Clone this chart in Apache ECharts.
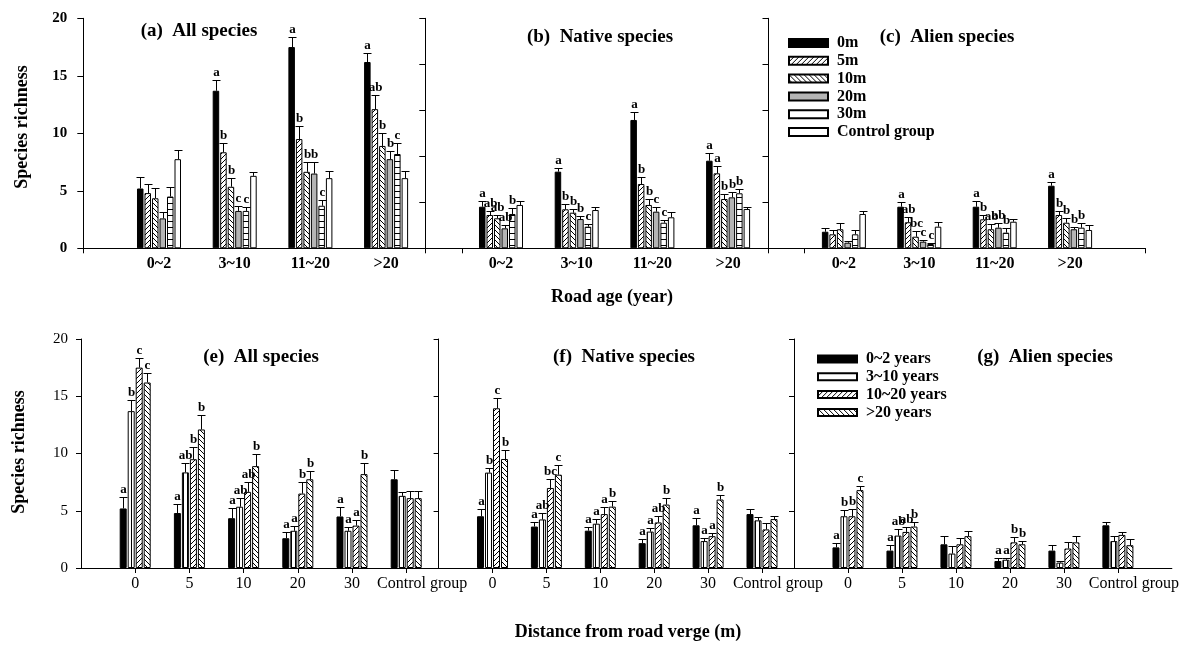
<!DOCTYPE html>
<html lang="en">
<head>
<meta charset="utf-8">
<script src="https://cdn.jsdelivr.net/npm/echarts@6/dist/echarts.min.js"></script>
</head>
<body style="margin:0;background:#fff;">
<div id="main" style="width:1182px;height:645px;"></div>
<script>
// categories
var ageCats = ['0~2', '3~10', '11~20', '>20'];
var distNames = ['0m', '5m', '10m', '20m', '30m', 'Control group'];
var distCats = ['0', '5', '10', '20', '30', 'Control group'];
var ageNames = ['0~2 years', '3~10 years', '10~20 years', '>20 years'];

// means: rows = distance (0m,5m,10m,20m,30m,control), cols = road age (0~2,3~10,11~20,>20)
var allMean = [
  [5.2, 13.7, 17.5, 16.2],
  [4.8, 8.35, 9.5, 12.1],
  [4.35, 5.35, 6.65, 8.9],
  [2.6, 3.25, 6.5, 7.75],
  [4.5, 3.25, 3.7, 8.2],
  [7.75, 6.3, 6.1, 6.1]
];
var allErr = [
  [1.0, 0.95, 0.87, 0.8],
  [0.8, 0.78, 1.1, 1.22],
  [0.87, 0.8, 0.87, 1.1],
  [0.58, 0.46, 1.0, 0.75],
  [0.8, 0.33, 0.46, 0.98],
  [0.78, 0.3, 0.66, 0.66]
];
var nativeMean = [
  [4.52, 8.33, 13.95, 9.52],
  [3.62, 4.24, 6.99, 8.15],
  [3.26, 3.87, 4.71, 5.36],
  [2.17, 3.18, 3.98, 5.54],
  [3.73, 2.35, 2.78, 5.98],
  [4.71, 4.16, 3.37, 4.27]
];
var nativeErr = [
  [0.62, 0.43, 0.9, 0.81],
  [0.43, 0.54, 0.79, 0.83],
  [0.36, 0.37, 0.62, 0.51],
  [0.36, 0.33, 0.54, 0.55],
  [0.62, 0.26, 0.3, 0.43],
  [0.46, 0.3, 0.54, 0.25]
];
var alienMean = [
  [1.8, 4.52, 4.52, 6.8],
  [1.52, 2.83, 3.15, 3.62],
  [2.07, 1.26, 2.07, 2.78],
  [0.61, 0.72, 2.24, 2.07],
  [1.52, 0.47, 1.7, 2.24],
  [3.73, 2.35, 2.89, 1.99]
];
var alienErr = [
  [0.37, 0.55, 0.65, 0.37],
  [0.47, 0.54, 0.47, 0.43],
  [0.71, 0.62, 0.57, 0.48],
  [0.22, 0.18, 0.48, 0.28],
  [0.47, 0.14, 0.54, 0.54],
  [0.32, 0.48, 0.29, 0.51]
];

// significance letters, top row: rows = distance, cols = road age
var topLetters = [
  [['', 'a', 'a', 'a'], ['', 'b', 'b', 'ab'], ['', 'b', 'b', 'b'], ['', 'c', 'b', 'b'], ['', 'c', 'c', 'c'], ['', '', '', '']],
  [['a', 'a', 'a', 'a'], ['ab', 'b', 'b', 'a'], ['ab', 'b', 'b', 'b'], ['ab', 'b', 'c', 'b'], ['b', 'c', 'c', 'b'], ['', '', '', '']],
  [['', 'a', 'a', 'a'], ['', 'ab', 'b', 'b'], ['', 'bc', 'ab', 'b'], ['', 'c', 'ab', 'b'], ['', 'c', 'b', 'b'], ['', '', '', '']]
];
// bottom row: rows = road age, cols = distance
var botLetters = [
  [['a', 'a', 'a', 'a', 'a', ''], ['b', 'ab', 'ab', 'a', 'a', ''], ['c', 'b', 'ab', 'b', 'a', ''], ['c', 'b', 'b', 'b', 'b', '']],
  [['a', 'a', 'a', 'a', 'a', ''], ['b', 'ab', 'a', 'a', 'a', ''], ['c', 'bc', 'a', 'ab', 'a', ''], ['b', 'c', 'b', 'b', 'b', '']],
  [['a', 'a', '', 'a', '', ''], ['b', 'ab', '', 'a', '', ''], ['b', 'ab', '', 'b', '', ''], ['c', 'b', '', 'b', '', '']]
];

var topMax = [20, 25, 25];
var botMax = [20, 20, 20];

var SERIF = '"Liberation Serif", "Times New Roman", serif';

function hatch(kind, s) {
  var c = document.createElement('canvas');
  c.width = s; c.height = s;
  var g = c.getContext('2d');
  g.fillStyle = '#fff'; g.fillRect(0, 0, s, s);
  g.strokeStyle = '#000'; g.lineWidth = 1;
  g.beginPath();
  if (kind === '/') {
    g.moveTo(0, s); g.lineTo(s, 0);
    g.moveTo(-1, 1); g.lineTo(1, -1);
    g.moveTo(s - 1, s + 1); g.lineTo(s + 1, s - 1);
  } else if (kind === '\\') {
    g.moveTo(0, 0); g.lineTo(s, s);
    g.moveTo(-1, s - 1); g.lineTo(1, s + 1);
    g.moveTo(s - 1, -1); g.lineTo(s + 1, 1);
  } else if (kind === '-') {
    g.moveTo(0, s - 0.5); g.lineTo(s, s - 0.5);
  } else {
    g.moveTo(s - 0.5, 0); g.lineTo(s - 0.5, s);
  }
  g.stroke();
  return { image: c, repeat: 'repeat' };
}

var topFill = ['#000', hatch('/', 5), hatch('\\', 5), '#b4b4b4', hatch('-', 6), '#fff'];
var botFill = ['#000', hatch('|', 4), hatch('/', 5), hatch('\\', 5)];

var topGrids = [[83.3, 378.5], [425.3, 378.5], [768.5, 377]];
var botGrids = [[81, 379.4], [438.6, 377.3], [794, 378.7]];

var grid = [], xAxis = [], yAxis = [], series = [];

function errRender(off, letters) {
  return function (params, api) {
    var c = api.value(0), v = api.value(1), e = api.value(2);
    var p = api.coord([c, v]);
    var q = api.coord([c, v + e]);
    var x = Math.round(p[0] + off) + 0.5;
    var yt = Math.round(q[1]) + 0.5;
    var kids = [
      { type: 'line', shape: { x1: x, y1: p[1], x2: x, y2: yt }, style: { stroke: '#000', lineWidth: 1 } },
      { type: 'line', shape: { x1: x - 4, y1: yt, x2: x + 4, y2: yt }, style: { stroke: '#000', lineWidth: 1 } }
    ];
    var t = letters[params.dataIndex];
    if (t) {
      kids.push({
        type: 'text', x: x, y: yt - 1,
        style: { text: t, align: 'center', verticalAlign: 'bottom', textAlign: 'center', textVerticalAlign: 'bottom',
          fontFamily: SERIF, fontWeight: 'bold', fontSize: 13, fill: '#000' }
      });
    }
    return { type: 'group', children: kids };
  };
}

function addPanel(idx, box, top, height, cats, max, labels, bold, tickFn, names, fills, means, errs, letters, bw, pitch) {
  grid.push({ left: box[0], top: top, width: box[1], height: height, containLabel: false });
  xAxis.push({
    type: 'category', gridIndex: idx, boundaryGap: false,
    data: [''].concat(cats, ['']),
    axisLine: { lineStyle: { color: '#000', width: 1 } },
    axisTick: { interval: tickFn, length: 5, lineStyle: { color: '#000' } },
    axisLabel: {
      interval: 0, margin: 8, color: '#000', fontFamily: SERIF,
      fontWeight: bold ? 'bold' : 'normal', fontSize: 16,
      formatter: function (v) { return v === 'Control group' ? '        ' + v : v; }
    },
    splitLine: { show: false }
  });
  yAxis.push({
    type: 'value', gridIndex: idx, min: 0, max: max, interval: 5,
    axisLine: { show: true, lineStyle: { color: '#000', width: 1 } },
    axisTick: { show: true, length: bold ? 6 : 5, lineStyle: { color: '#000' } },
    axisLabel: { show: labels, margin: bold ? 16 : 13, color: '#000', fontFamily: SERIF,
      fontWeight: bold ? 'bold' : 'normal', fontSize: 15 },
    splitLine: { show: false }
  });
  var n = names.length;
  names.forEach(function (name, k) {
    series.push({
      type: 'bar', name: name, xAxisIndex: idx, yAxisIndex: idx,
      barWidth: bw, barGap: ((pitch - bw) / bw * 100).toFixed(1) + '%',
      data: ['-'].concat(means[k], ['-']),
      itemStyle: { color: fills[k], borderColor: '#000', borderWidth: 1 },
      silent: true
    });
    series.push({
      type: 'custom', xAxisIndex: idx, yAxisIndex: idx, z: 3, silent: true,
      data: means[k].map(function (v, j) { return [j + 1, v, errs[k][j]]; }),
      renderItem: errRender((k - (n - 1) / 2) * pitch, letters[k])
    });
  });
}

function transpose(m) {
  return m[0].map(function (_, j) { return m.map(function (r) { return r[j]; }); });
}

var topEnds = function (i) { return i === 0 || i === 5; };
var botTicks = function (i) { return i >= 1 && i <= 6; };
var meansSet = [allMean, nativeMean, alienMean];
var errSet = [allErr, nativeErr, alienErr];

for (var i = 0; i < 3; i++) {
  addPanel(i, topGrids[i], 18.3, 230, ageCats, topMax[i], i === 0, true, topEnds,
    distNames, topFill, meansSet[i], errSet[i], topLetters[i], 6.5, 7.5);
}
for (var i = 0; i < 3; i++) {
  addPanel(3 + i, botGrids[i], 339, 229, distCats, botMax[i], i === 0, false, botTicks,
    ageNames, botFill, transpose(meansSet[i]), transpose(errSet[i]), botLetters[i], 7, 8);
}

function label(text, x, y, size, rot) {
  return {
    type: 'text', x: x, y: y, rotation: rot || 0, silent: true,
    style: { text: text, align: 'center', verticalAlign: 'middle', textAlign: 'center', textVerticalAlign: 'middle',
      fontFamily: SERIF, fontWeight: 'bold', fontSize: size, fill: '#000' }
  };
}

var legendText = { fontFamily: SERIF, fontWeight: 'bold', fontSize: 16, lineHeight: 15, color: '#000', padding: [0, 0, 0, 4] };

var option = {
  animation: false,
  backgroundColor: '#fff',
  grid: grid,
  xAxis: xAxis,
  yAxis: yAxis,
  series: series,
  legend: [
    {
      orient: 'vertical', left: 783, top: 30, itemWidth: 39, itemHeight: 8, itemGap: 1.8, icon: 'rect',
      selectedMode: false, textStyle: legendText,
      data: ['0m', '5m', '10m', '20m', { name: '30m', itemStyle: { color: '#fff' } }, 'Control group']
    },
    {
      orient: 'vertical', left: 812, top: 346, itemWidth: 39, itemHeight: 7, itemGap: 1.8, icon: 'rect',
      selectedMode: false, textStyle: legendText,
      data: ['0~2 years', { name: '3~10 years', itemStyle: { color: '#fff' } }, '10~20 years', '>20 years']
    }
  ],
  graphic: [
    label('(a)  All species', 199, 31, 19),
    label('(b)  Native species', 600, 37, 19),
    label('(c)  Alien species', 947, 37, 19),
    label('(e)  All species', 261, 357, 19),
    label('(f)  Native species', 624, 357, 19),
    label('(g)  Alien species', 1045, 357, 19),
    label('Road age (year)', 612, 297, 18),
    label('Distance from road verge (m)', 628, 632, 18),
    label('Species richness', 22, 127, 18, Math.PI / 2),
    label('Species richness', 19, 452, 18, Math.PI / 2)
  ]
};

var chart = echarts.init(document.getElementById('main'), null, { renderer: 'canvas' });
chart.setOption(option);
</script>
</body>
</html>
